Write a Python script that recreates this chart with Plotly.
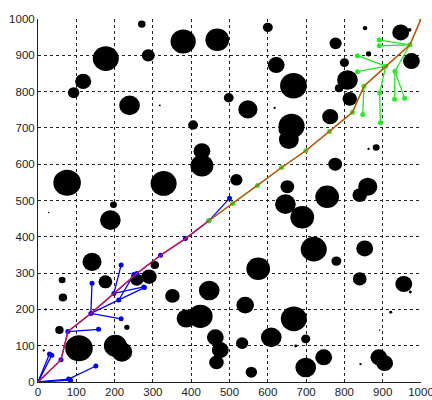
import plotly.graph_objects as go

# ---------------- data ----------------
obs_x = [76, 93, 118, 177, 239, 271, 288, 318, 379, 468, 405, 428, 428, 328,
         197, 189, 28, 141, 63, 176, 65, 20, 305, 290, 258, 351, 387, 424, 56, 232,
         107, 202, 219, 15,
         575, 447, 541, 668, 720, 853, 779, 840, 955, 972, 921, 892, 609, 699, 673,
         533, 746, 699, 557, 890, 905, 842, 463, 476, 466,
         600, 854, 947, 970, 777, 622, 667, 800, 863, 808, 786, 975, 498, 548, 618,
         814, 763, 662, 655, 642, 883, 863, 776, 518, 651, 755, 646, 690, 861, 840]
obs_y = [549, 797, 828, 891, 762, 986, 900, 762, 938, 943, 708, 636, 596, 547,
         488, 446, 467, 331, 281, 276, 233, 200, 322, 290, 282, 237, 175, 181, 143, 151,
         93, 100, 83, 87,
         312, 252, 212, 174, 366, 368, 333, 284, 270, 248, 192, 143, 123, 119, 99,
         107, 68, 40, 27, 68, 52, 49, 123, 88, 54,
         977, 975, 963, 970, 933, 873, 816, 880, 904, 832, 809, 884, 783, 751, 755,
         780, 731, 705, 668, 694, 646, 642, 600, 557, 538, 510, 490, 454, 538, 515]
obs_r = [36, 15, 21, 34, 27, 10, 17, 2.5, 33, 31, 13, 22, 30, 34,
         9, 27, 2, 25, 9, 18, 11, 3, 11, 20, 17, 19, 25, 32, 11, 7,
         36, 30, 27, 3,
         31, 27, 23, 34, 34, 22, 13, 18, 22, 4, 4, 2, 27, 12, 4,
         16, 22, 27, 15, 22, 22, 3, 22, 22, 19,
         13, 6, 22, 5, 16, 22, 35, 12, 7, 27, 11, 22, 13, 25, 3,
         19, 21, 34, 26, 14, 9, 3, 18, 16, 18, 31, 27, 31, 25, 19]

# tree grown from the start (blue)
start_x = [0, 30, 36, 60, 80, 85, 151, 78, 158, 138, 141, 217, 211, 198, 217, 276,
           250, 258, 320, 385, 446, 500, 278]
start_y = [0, 77, 74, 61, 8, 5, 44, 139, 145, 189, 272, 174, 226, 244, 322, 262,
           296, 299, 349, 395, 444, 506, 260]
start_parent = [-1, 0, 0, 0, 0, 0, 4, 3, 7, 7, 9, 9, 9, 9, 13, 13,
                12, 13, 17, 18, 19, 20, 12]

# tree grown from the goal (green)
goal_x = [1000, 971, 891, 891, 908, 834, 834, 932, 931, 957, 892, 894, 851, 848,
          821, 761, 699, 636, 573, 508, 446]
goal_y = [1000, 929, 942, 926, 870, 899, 855, 856, 779, 782, 797, 714, 815, 737,
          743, 690, 637, 591, 541, 492, 444]
goal_parent = [-1, 0, 1, 1, 1, 4, 4, 1, 7, 7, 4, 10, 4, 12,
               12, 14, 15, 16, 17, 18, 19]

# final path
path1_x = [0, 60, 78, 138, 198, 258, 320, 385, 446]
path1_y = [0, 61, 139, 189, 244, 299, 349, 395, 444]
path2_x = [446, 508, 573, 636, 699, 761, 821, 851, 908, 971, 1000]
path2_y = [444, 492, 541, 591, 637, 690, 743, 815, 870, 929, 1000]

tick_vals = [0, 100, 200, 300, 400, 500, 600, 700, 800, 900, 1000]
tick_text = [str(v) for v in tick_vals]


def edges(xs, ys, parents):
    ex, ey = [], []
    for i, p in enumerate(parents):
        if p >= 0:
            ex += [xs[p], xs[i], None]
            ey += [ys[p], ys[i], None]
    return ex, ey


fig = go.Figure()

bx, by = edges(start_x, start_y, start_parent)
gx, gy = edges(goal_x, goal_y, goal_parent)

fig.add_trace(go.Scatter(x=bx, y=by, mode="lines",
                         line=dict(color="#0000ff", width=1.3), hoverinfo="skip"))
fig.add_trace(go.Scatter(x=start_x, y=start_y, mode="markers",
                         marker=dict(color="#0000ff", size=5), hoverinfo="skip"))
fig.add_trace(go.Scatter(x=gx, y=gy, mode="lines",
                         line=dict(color="#22e622", width=1.3), hoverinfo="skip"))
fig.add_trace(go.Scatter(x=goal_x, y=goal_y, mode="markers",
                         marker=dict(color="#22ee22", size=5), hoverinfo="skip"))
fig.add_trace(go.Scatter(x=path1_x, y=path1_y, mode="lines",
                         line=dict(color="#dc143c", width=1.3), hoverinfo="skip"))
fig.add_trace(go.Scatter(x=path2_x, y=path2_y, mode="lines",
                         line=dict(color="#e0400c", width=1.3), hoverinfo="skip"))

shapes = []
for x, y, r in zip(obs_x, obs_y, obs_r):
    shapes.append(dict(type="circle", xref="x", yref="y",
                       x0=x - r, x1=x + r, y0=y - r, y1=y + r,
                       fillcolor="black", line=dict(width=0), layer="between"))

font = dict(family="Liberation Sans, Arial", size=11.5, color="#222222")

axis_common = dict(range=[0, 1000], tickvals=tick_vals, ticktext=tick_text,
                   showgrid=True, gridcolor="#222222", griddash="dot", gridwidth=1,
                   zeroline=False, showline=True, linecolor="#222222", linewidth=1,
                   mirror=False, ticks="inside", ticklen=3, tickcolor="#222222",
                   tickfont=font, fixedrange=True, automargin=False,
                   ticklabeloverflow="allow")

fig.update_layout(
    width=432, height=400,
    margin=dict(l=38, r=11, t=19, b=18),
    paper_bgcolor="white", plot_bgcolor="white",
    showlegend=False,
    shapes=shapes,
    xaxis=dict(**axis_common, ticklabelstandoff=-1),
    yaxis=dict(**axis_common),
)

fig.write_html("out.html", config={"displayModeBar": False},
               post_script="document.body.style.margin='0px';")
